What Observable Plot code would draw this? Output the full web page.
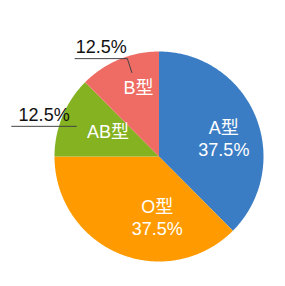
<!DOCTYPE html>
<html>
<head>
<meta charset="utf-8">
<script src="https://cdn.jsdelivr.net/npm/d3@7"></script>
<script src="https://cdn.jsdelivr.net/npm/@observablehq/plot@0.6"></script>
<style>
  html, body { margin: 0; padding: 0; background: #fff; }
  #chart { width: 285px; height: 286px; }
</style>
</head>
<body>
<div id="chart"></div>
<script>
// data
const categories = ["A型", "O型", "AB型", "B型"];
const values = [37.5, 37.5, 12.5, 12.5];
const valueLabels = ["37.5%", "37.5%", "12.5%", "12.5%"];

// styling / layout
const colors = ["#3b7dc4", "#ff9b00", "#84b220", "#ee6c64"];
const inside = [true, true, false, false];
const labelRadius = [0.62, 0.62, 0.6, 0.64];
const labelNudge = [[5, 6], [23, 0], [7, 0], [5, -6]];   // px tweaks like the source's label placement
const leaderShiftDeg = [0, 0, -2.5, 4.5];
const elbowRadius = [0, 0, 0.84, 0.98];
const shelfLength = [0, 0, 0.62, 0.5];

const pie = d3.pie().sort(null).value(d => d)(values);
const toXY = (a, r) => [r * Math.sin(a), r * Math.cos(a)];

const marks = [];
pie.forEach((p, i) => {
  const pts = [[0, 0]];
  const n = Math.max(2, Math.ceil((p.endAngle - p.startAngle) / 0.01));
  for (let k = 0; k <= n; k++) {
    const a = p.startAngle + (p.endAngle - p.startAngle) * k / n;
    pts.push(toXY(a, 1));
  }
  pts.push([0, 0]);
  marks.push(Plot.line(pts, {x: d => d[0], y: d => d[1], fill: colors[i], stroke: "none", curve: "linear"}));
});

const font = "'Liberation Sans', 'Noto Sans CJK JP', sans-serif";
pie.forEach((p, i) => {
  const mid = (p.startAngle + p.endAngle) / 2;
  const [dx, dy] = labelNudge[i];
  const c = toXY(mid, labelRadius[i]);
  if (inside[i]) {
    marks.push(Plot.text([c], {x: d => d[0], y: d => d[1], text: [categories[i] + "\n" + valueLabels[i]],
      dx, dy, fill: "white", fontSize: 18, lineHeight: 1.22, fontFamily: font}));
  } else {
    marks.push(Plot.text([c], {x: d => d[0], y: d => d[1], text: [categories[i]],
      dx, dy, fill: "white", fontSize: 18, fontFamily: font}));
    const la = mid + leaderShiftDeg[i] * Math.PI / 180;
    const s = toXY(la, 0.84);
    const e = toXY(la, elbowRadius[i]);
    const end = [e[0] - shelfLength[i], e[1]];
    marks.push(Plot.line([s, e, end], {x: d => d[0], y: d => d[1], stroke: "#444", strokeWidth: 1}));
    marks.push(Plot.text([[(e[0] + end[0]) / 2, e[1]]], {x: d => d[0], y: d => d[1], text: [valueLabels[i]],
      dy: -11, fill: "#111", fontSize: 18, fontFamily: font}));
  }
});

const chart = Plot.plot({
  width: 285,
  height: 286,
  marginLeft: 54,
  marginRight: 22,
  marginTop: 51,
  marginBottom: 25,
  x: {domain: [-1, 1], axis: null},
  y: {domain: [-1, 1], axis: null},
  style: {background: "white", overflow: "visible"},
  marks
});
document.getElementById("chart").appendChild(chart);
</script>
</body>
</html>
